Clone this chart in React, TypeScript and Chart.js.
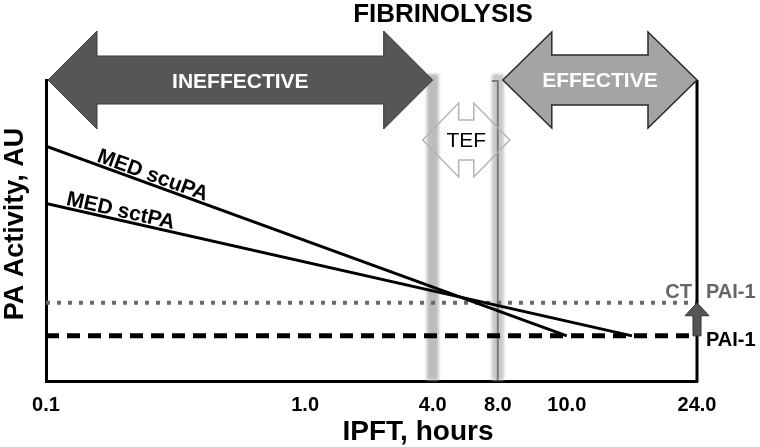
import React, { useEffect, useRef } from "react";
import { Chart, registerables } from "chart.js";

Chart.register(...registerables);

// ---- data ----
const tickHours = [0.1, 1, 4, 8, 10, 24];
const tickLabels = ["0.1", "1.0", "4.0", "8.0", "10.0", "24.0"];
// schematic (non-uniform) spacing of the hour ticks along the axis, 0..100
const axisUnits = [0, 39.8, 59.4, 69.4, 80, 100];

const scuPAHours = [0.1, 10];
const scuPAValues = [78, 15];
const sctPAHours = [0.1, 15.5];
const sctPAValues = [59, 15];
const ctPai1Hours = [0.1, 24];
const ctPai1Values = [26, 26];
const pai1Hours = [0.1, 24];
const pai1Values = [15, 15];
const tefBoundsHours = [4, 8];

const FONT = "'Liberation Sans', Arial, sans-serif";

function hourToUnit(h: number): number {
  for (let i = 0; i < tickHours.length - 1; i++) {
    const a = tickHours[i];
    const b = tickHours[i + 1];
    if (h >= a && h <= b) {
      const f = (Math.log(h) - Math.log(a)) / (Math.log(b) - Math.log(a));
      return axisUnits[i] + f * (axisUnits[i + 1] - axisUnits[i]);
    }
  }
  return h < tickHours[0] ? axisUnits[0] : axisUnits[axisUnits.length - 1];
}

const pts = (hs: number[], vs: number[]) => hs.map((h, i) => ({ x: hourToUnit(h), y: vs[i] }));

function doubleArrow(
  ctx: CanvasRenderingContext2D,
  x1: number,
  x2: number,
  yc: number,
  headHalf: number,
  shaftHalf: number,
  headLen: number
) {
  ctx.beginPath();
  ctx.moveTo(x1, yc);
  ctx.lineTo(x1 + headLen, yc - headHalf);
  ctx.lineTo(x1 + headLen, yc - shaftHalf);
  ctx.lineTo(x2 - headLen, yc - shaftHalf);
  ctx.lineTo(x2 - headLen, yc - headHalf);
  ctx.lineTo(x2, yc);
  ctx.lineTo(x2 - headLen, yc + headHalf);
  ctx.lineTo(x2 - headLen, yc + shaftHalf);
  ctx.lineTo(x1 + headLen, yc + shaftHalf);
  ctx.lineTo(x1 + headLen, yc + headHalf);
  ctx.closePath();
}

const schematic = {
  id: "schematic",
  beforeDatasetsDraw(chart: any) {
    const { ctx, chartArea, scales } = chart;
    const { top, bottom } = chartArea;
    const x = scales.x;
    const b1 = x.getPixelForValue(hourToUnit(tefBoundsHours[0]));
    const b2 = x.getPixelForValue(hourToUnit(tefBoundsHours[1]));
    ctx.save();
    ctx.filter = "blur(1.5px)";
    ctx.fillStyle = "#bcbcbc";
    ctx.fillRect(b1 - 6, top - 6, 12, bottom - top + 5);
    ctx.fillStyle = "#c8c8c8";
    ctx.fillRect(b2 - 6, top - 6, 12, bottom - top + 5);
    ctx.filter = "none";
    ctx.strokeStyle = "#7a7a7a";
    ctx.lineWidth = 2;
    ctx.beginPath();
    ctx.moveTo(b2 - 6, top + 1);
    ctx.lineTo(b2, top + 1);
    ctx.lineTo(b2, bottom - 1);
    ctx.stroke();
    ctx.restore();
  },
  afterDatasetsDraw(chart: any) {
    const { ctx, chartArea, scales } = chart;
    const { top, bottom, left, right } = chartArea;
    const x = scales.x;
    const y = scales.y;
    const b1 = x.getPixelForValue(hourToUnit(tefBoundsHours[0]));
    const b2 = x.getPixelForValue(hourToUnit(tefBoundsHours[1]));
    ctx.save();

    // right frame line
    ctx.strokeStyle = "#000";
    ctx.lineWidth = 3;
    ctx.beginPath();
    ctx.moveTo(right, top);
    ctx.lineTo(right, bottom + 1.5);
    ctx.stroke();

    // up arrow PAI-1 -> CT PAI-1
    const yTop = y.getPixelForValue(ctPai1Values[0]);
    const yBot = y.getPixelForValue(pai1Values[0]);
    ctx.beginPath();
    ctx.moveTo(right, yTop);
    ctx.lineTo(right + 12, yTop + 13);
    ctx.lineTo(right + 4, yTop + 13);
    ctx.lineTo(right + 4, yBot);
    ctx.lineTo(right - 4, yBot);
    ctx.lineTo(right - 4, yTop + 13);
    ctx.lineTo(right - 12, yTop + 13);
    ctx.closePath();
    ctx.fillStyle = "#555";
    ctx.fill();
    ctx.strokeStyle = "#333";
    ctx.lineWidth = 1;
    ctx.stroke();

    // right labels
    ctx.font = `bold 20px ${FONT}`;
    ctx.textBaseline = "middle";
    ctx.fillStyle = "#666";
    ctx.textAlign = "right";
    ctx.fillText("CT", right - 5, yTop - 10);
    ctx.textAlign = "left";
    ctx.fillText("PAI-1", right + 9, yTop - 10);
    ctx.fillStyle = "#000";
    ctx.fillText("PAI-1", right + 9, yBot + 5);

    // line labels
    const labelLine = (idx: number, text: string, frac: number) => {
      const meta = chart.getDatasetMeta(idx);
      const p0 = meta.data[0];
      const p1 = meta.data[1];
      const ang = Math.atan2(p1.y - p0.y, p1.x - p0.x);
      const px = p0.x + (p1.x - p0.x) * frac;
      const py = p0.y + (p1.y - p0.y) * frac;
      ctx.save();
      ctx.translate(px, py);
      ctx.rotate(ang);
      ctx.font = `bold 21px ${FONT}`;
      ctx.fillStyle = "#000";
      ctx.textAlign = "left";
      ctx.textBaseline = "alphabetic";
      ctx.fillText(text, 0, -3);
      ctx.restore();
    };
    labelLine(0, "MED scuPA", 0.094);
    labelLine(1, "MED sctPA", 0.032);

    // INEFFECTIVE arrow
    doubleArrow(ctx, left + 2, b1, top, 49, 24, 49);
    ctx.fillStyle = "#565656";
    ctx.fill();
    ctx.strokeStyle = "#3a3a3a";
    ctx.lineWidth = 1;
    ctx.stroke();
    ctx.font = `bold 21px ${FONT}`;
    ctx.fillStyle = "#fff";
    ctx.textAlign = "center";
    ctx.textBaseline = "middle";
    ctx.fillText("INEFFECTIVE", (left + 2 + b1) / 2, top + 2);

    // EFFECTIVE arrow
    doubleArrow(ctx, b2 + 5, right, top, 48, 25, 49);
    ctx.fillStyle = "#a4a4a4";
    ctx.fill();
    ctx.strokeStyle = "#2a2a2a";
    ctx.lineWidth = 1.5;
    ctx.stroke();
    ctx.fillStyle = "#fff";
    ctx.fillText("EFFECTIVE", (b2 + 5 + right) / 2, top + 1);

    // TEF arrow (outline)
    const tefY = top + 60;
    doubleArrow(ctx, b1 - 10, b2 + 12, tefY, 37, 20, 36);
    ctx.strokeStyle = "#b4b4b4";
    ctx.lineWidth = 1.5;
    ctx.stroke();
    ctx.font = `21px ${FONT}`;
    ctx.fillStyle = "#000";
    ctx.fillText("TEF", (b1 - 10 + b2 + 12) / 2, tefY + 1);

    // titles
    ctx.font = `bold 26px ${FONT}`;
    ctx.fillStyle = "#000";
    ctx.fillText("FIBRINOLYSIS", 443, 15);
    ctx.font = `bold 28px ${FONT}`;
    ctx.fillText("IPFT, hours", 418, 432);
    ctx.save();
    ctx.translate(16, 224);
    ctx.rotate(-Math.PI / 2);
    ctx.font = `bold 27px ${FONT}`;
    ctx.fillText("PA Activity, AU", 0, 0);
    ctx.restore();

    ctx.restore();
  },
};

export default function App() {
  const ref = useRef<HTMLCanvasElement | null>(null);
  useEffect(() => {
    document.body.style.margin = "0";
    const canvas = ref.current;
    if (!canvas) return;
    const chart = new Chart(canvas, {
      type: "line",
      data: {
        datasets: [
          {
            label: "MED scuPA",
            data: pts(scuPAHours, scuPAValues),
            borderColor: "#000",
            borderWidth: 3,
            pointRadius: 0,
          },
          {
            label: "MED sctPA",
            data: pts(sctPAHours, sctPAValues),
            borderColor: "#000",
            borderWidth: 3,
            pointRadius: 0,
          },
          {
            label: "CT PAI-1",
            data: pts(ctPai1Hours, ctPai1Values),
            borderColor: "#6a6a6a",
            borderWidth: 4,
            borderDash: [4, 7],
            pointRadius: 0,
          },
          {
            label: "PAI-1",
            data: pts(pai1Hours, pai1Values),
            borderColor: "#000",
            borderWidth: 5,
            borderDash: [13, 8],
            pointRadius: 0,
          },
        ],
      },
      options: {
        responsive: false,
        animation: false,
        events: [],
        layout: { padding: { top: 80, right: 63, left: 46, bottom: 0 } },
        plugins: { legend: { display: false }, tooltip: { enabled: false }, title: { display: false } },
        scales: {
          x: {
            type: "linear",
            min: 0,
            max: 100,
            grid: { display: false, drawTicks: false },
            border: { display: true, color: "#000", width: 3 },
            afterBuildTicks: (scale: any) => {
              scale.ticks = axisUnits.map((v) => ({ value: v }));
            },
            afterFit: (scale: any) => {
              scale.height = 66;
            },
            ticks: {
              autoSkip: false,
              maxRotation: 0,
              padding: 12,
              color: "#000",
              font: { family: FONT, size: 20, weight: "bold" },
              callback: (_v: any, i: number) => tickLabels[i],
            },
          },
          y: {
            type: "linear",
            min: 0,
            max: 100,
            grid: { display: false, drawTicks: false },
            border: { display: true, color: "#000", width: 3 },
            ticks: { display: false },
            afterFit: (scale: any) => {
              scale.width = 0;
            },
          },
        },
      },
      plugins: [schematic],
    } as any);
    return () => chart.destroy();
  }, []);
  return (
    <div style={{ width: 760, height: 447, background: "#fff" }}>
      <canvas ref={ref} width={760} height={447} style={{ display: "block" }} />
    </div>
  );
}
